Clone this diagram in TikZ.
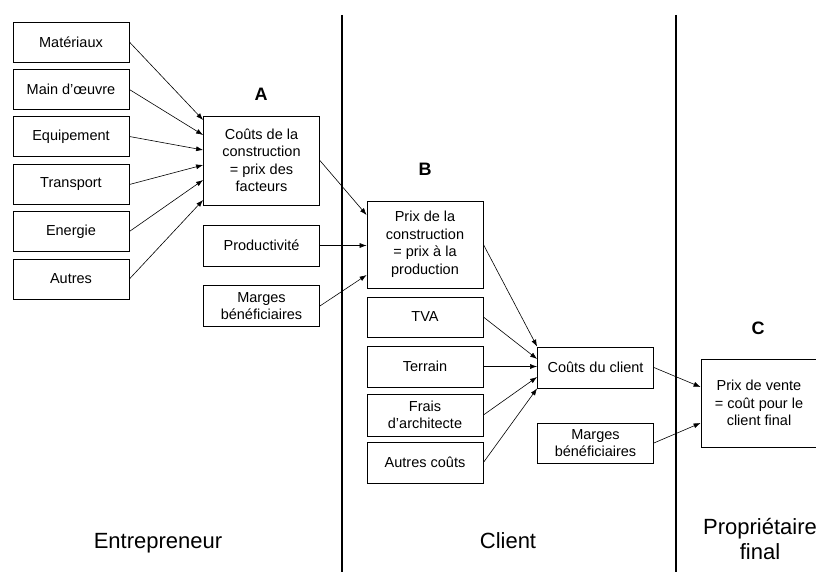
\documentclass[tikz,border=0pt]{standalone}
\usepackage{fontspec}
\setmainfont{Liberation Sans}
\usetikzlibrary{arrows.meta}
\tikzset{
  box/.style={draw, line width=0.8pt, minimum width=116pt, minimum height=41pt,
    align=center, inner sep=2pt, font=\fontsize{14.5}{17.5}\selectfont},
  flow/.style={-{Latex[length=7pt,width=5pt]}, line width=0.6pt},
  stage/.style={font=\fontsize{18}{20}\selectfont\bfseries},
  actor/.style={align=center, anchor=base, font=\fontsize{22}{25}\selectfont},
  divider/.style={line width=1.6pt}
}
\begin{document}
\begin{tikzpicture}[x=1pt, y=-1pt]
        \useasboundingbox (0,0) rectangle (816,572);
        % dividers
        \draw[divider] (342,15) -- (342,572);
        \draw[divider] (676,15) -- (676,572);
        % factors
        \node[box, minimum height=40pt] (mat) at (71,42) {Matériaux};
        \node[box, minimum height=40pt] (main) at (71,89.5) {Main d'œuvre};
        \node[box, minimum height=40pt] (equip) at (71,136.5) {Equipement};
        \node[box, minimum height=40pt] (trans) at (71,184.5) {Transport};
        \node[box, minimum height=40pt] (energ) at (71,231.5) {Energie};
        \node[box, minimum height=40pt] (autres) at (71,279) {Autres};
        % A
        \node[stage] (labA) at (261,94) {A};
        \node[box, minimum height=89pt] (A) at (261.5,160.5) {Coûts de la\\construction\\= prix des\\facteurs};
        \node[box] (prod) at (261.5,245.5) {Productivité};
        \node[box] (marA) at (261.5,306) {Marges\\bénéficiaires};
        % B
        \node[stage] (labB) at (425,169) {B};
        \node[box, minimum height=87pt] (B) at (425,244.5) {Prix de la\\construction\\= prix à la\\production};
        \node[box, minimum height=40pt] (tva) at (425,317) {TVA};
        \node[box] (terr) at (425,366.5) {Terrain};
        \node[box, minimum height=42pt] (frais) at (425,415) {Frais\\d'architecte};
        \node[box] (acout) at (425,462.5) {Autres coûts};
        \node[box] (client) at (595.5,367.5) {Coûts du client};
        \node[box, minimum height=40pt] (marB) at (595.5,443) {Marges\\bénéficiaires};
        % C
        \node[stage] (labC) at (758,328) {C};
        \node[box, minimum height=88pt] (C) at (759,403) {Prix de vente\\= coût pour le\\client final};
        % arrows
        \draw[flow] (mat.east) -- ([yshift=40.5pt]A.west);
        \draw[flow] (main.east) -- ([yshift=25.5pt]A.west);
        \draw[flow] (equip.east) -- ([yshift=10.5pt]A.west);
        \draw[flow] (trans.east) -- ([yshift=-4.5pt]A.west);
        \draw[flow] (energ.east) -- ([yshift=-19.5pt]A.west);
        \draw[flow] (autres.east) -- ([yshift=-39.5pt]A.west);
        \draw[flow] (A.east) -- ([yshift=29.5pt]B.west);
        \draw[flow] (prod.east) -- (prod.east -| B.west);
        \draw[flow] (marA.east) -- ([yshift=-30.5pt]B.west);
        \draw[flow] (B.east) -- (client.north west);
        \draw[flow] (tva.east) -- ([yshift=8.5pt]client.west);
        \draw[flow] (terr.east) -- (terr.east -| client.west);
        \draw[flow] (frais.east) -- ([yshift=-9.5pt]client.west);
        \draw[flow] (acout.east) -- (client.south west);
        \draw[flow] (client.east) -- ([yshift=16pt]C.west);
        \draw[flow] (marB.east) -- ([yshift=-20pt]C.west);
        % actors
        \node[actor] (entr) at (158,548) {Entrepreneur};
        \node[actor] (cli) at (508,548) {Client};
        \node[actor] (prop) at (760,559) {Propriétaire\\final};
\end{tikzpicture}
\end{document}
